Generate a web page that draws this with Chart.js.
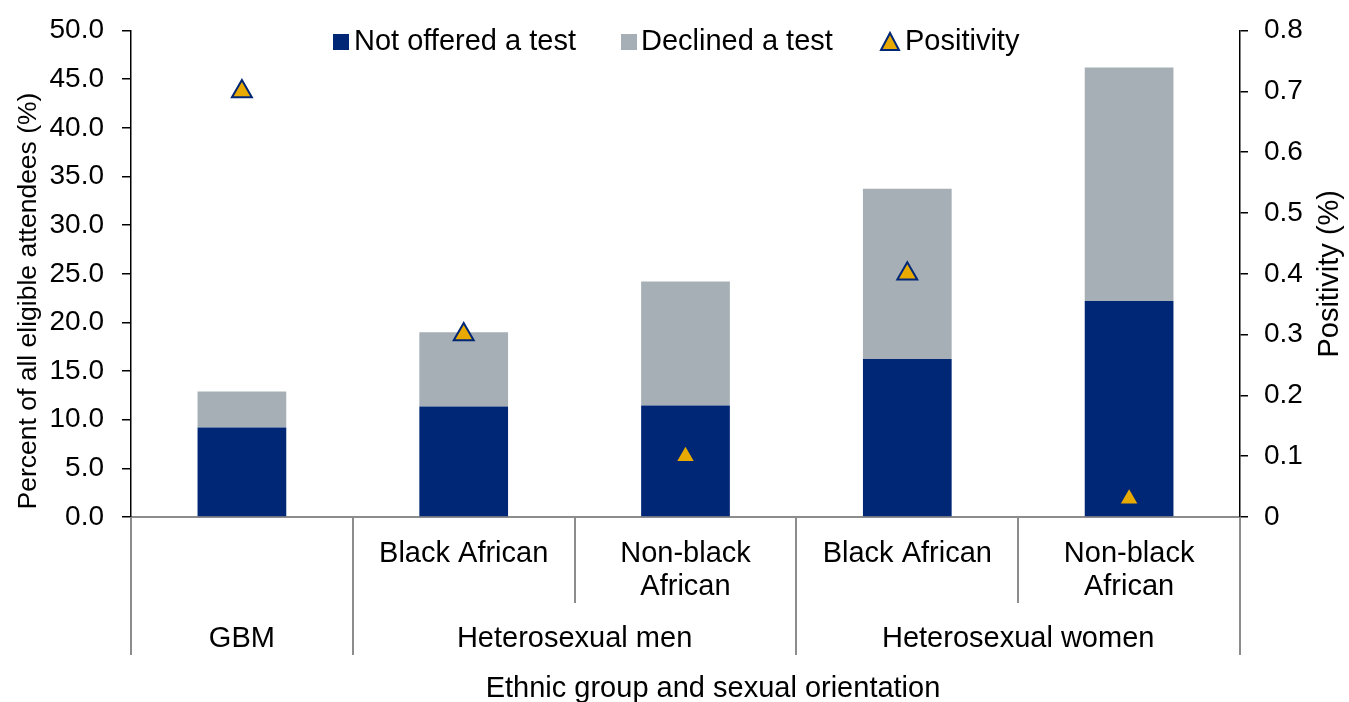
<!DOCTYPE html>
<html>
<head>
<meta charset="utf-8">
<script src="https://cdn.jsdelivr.net/npm/chart.js@4"></script>
<style>
  body { margin: 0; background: #fff; }
  #wrap { width: 1349px; height: 702px; position: relative; }
</style>
</head>
<body>
<div id="wrap"><canvas id="testChart"></canvas></div>
<script>
// data
const subLabels = ['', 'Black African', ['Non-black', 'African'], 'Black African', ['Non-black', 'African']];
const groupLabels = ['GBM', 'Heterosexual men', 'Heterosexual women'];
const groupOf = [0, 1, 1, 2, 2];
const notOffered = [9.2, 11.35, 11.45, 16.25, 22.2];
const declined = [3.7, 7.65, 12.75, 17.5, 24.0];
const positivity = [0.7, 0.3, 0.1, 0.4, 0.03];

const FONT = '"Liberation Sans", Arial, sans-serif';
const NAVY = '#002776';
const GREY = '#a5afb5';
const GOLD = '#e8a900';
const LINE = '#8c8c8c';

Chart.defaults.font.family = FONT;
Chart.defaults.font.size = 28;
Chart.defaults.color = '#000';

// two-row category axis, axis titles and legend laid over the plot
const extras = {
  id: 'extras',
  afterDraw(chart) {
    const { ctx, chartArea, scales } = chart;
    const x = scales.x;
    const n = chart.data.labels.length;
    const edge = i => {
      if (i <= 0) return chartArea.left;
      if (i >= n) return chartArea.right;
      return (x.getPixelForValue(i - 1) + x.getPixelForValue(i)) / 2;
    };
    const base = chartArea.bottom;

    ctx.save();
    ctx.strokeStyle = LINE;
    ctx.lineWidth = 2;
    for (let i = 0; i <= n; i++) {
      const newGroup = i === 0 || i === n || groupOf[i] !== groupOf[i - 1];
      const px = Math.round(edge(i));
      ctx.beginPath();
      ctx.moveTo(px, base);
      ctx.lineTo(px, base + (newGroup ? 138 : 86));
      ctx.stroke();
    }

    ctx.fillStyle = '#000';
    ctx.font = '29px ' + FONT;
    ctx.textAlign = 'center';
    ctx.textBaseline = 'middle';
    subLabels.forEach((lab, i) => {
      const lines = Array.isArray(lab) ? lab : [lab];
      lines.forEach((t, j) => ctx.fillText(t, x.getPixelForValue(i), base + 37 + j * 33));
    });
    groupLabels.forEach((g, gi) => {
      const idx = groupOf.map((v, i) => v === gi ? i : -1).filter(i => i >= 0);
      const cx = (edge(idx[0]) + edge(idx[idx.length - 1] + 1)) / 2;
      ctx.fillText(g, cx, base + 122);
    });
    ctx.fillText('Ethnic group and sexual orientation', 713, 689);

    ctx.save();
    ctx.translate(1330, (chartArea.top + chartArea.bottom) / 2);
    ctx.rotate(-Math.PI / 2);
    ctx.fillText('Positivity (%)', 0, 0);
    ctx.restore();
    ctx.save();
    ctx.font = '26.5px ' + FONT;
    ctx.translate(29, 301);
    ctx.rotate(-Math.PI / 2);
    ctx.fillText('Percent of all eligible attendees (%)', 0, 0);
    ctx.restore();

    // legend
    const ly = 42;
    const ds = chart.data.datasets;
    ctx.textAlign = 'left';
    ctx.fillStyle = ds[0].backgroundColor;
    ctx.fillRect(333, ly - 8, 16, 16);
    ctx.fillStyle = ds[1].backgroundColor;
    ctx.fillRect(621, ly - 8, 16, 16);
    ctx.beginPath();
    ctx.moveTo(890, ly - 9);
    ctx.lineTo(899, ly + 8);
    ctx.lineTo(881, ly + 8);
    ctx.closePath();
    ctx.fillStyle = ds[2].backgroundColor;
    ctx.fill();
    ctx.strokeStyle = ds[2].borderColor;
    ctx.lineWidth = 2;
    ctx.stroke();
    ctx.fillStyle = '#000';
    ctx.fillText(ds[0].label, 354, ly);
    ctx.fillText(ds[1].label, 641, ly);
    ctx.fillText(ds[2].label, 905, ly);
    ctx.restore();
  }
};

const tickFont = { size: 28, lineHeight: 0.9 };

new Chart(document.getElementById('testChart').getContext('2d'), {
  type: 'bar',
  data: {
    labels: subLabels.map((l, i) => groupLabels[groupOf[i]] + ' ' + [].concat(l).join(' ')),
    datasets: [
      {
        label: 'Not offered a test',
        data: notOffered,
        backgroundColor: NAVY,
        stack: 's',
        order: 2,
        categoryPercentage: 1,
        barPercentage: 0.4
      },
      {
        label: 'Declined a test',
        data: declined,
        backgroundColor: GREY,
        stack: 's',
        order: 2,
        categoryPercentage: 1,
        barPercentage: 0.4
      },
      {
        type: 'line',
        label: 'Positivity',
        data: positivity,
        yAxisID: 'y1',
        showLine: false,
        pointStyle: 'triangle',
        pointRadius: 11.5,
        pointBorderWidth: 2,
        backgroundColor: GOLD,
        borderColor: NAVY,
        order: 1
      }
    ]
  },
  options: {
    responsive: true,
    maintainAspectRatio: false,
    animation: false,
    layout: { padding: { top: 0, left: 0, right: 0, bottom: 0 } },
    plugins: {
      legend: { display: false },
      tooltip: { enabled: false }
    },
    scales: {
      x: {
        stacked: true,
        ticks: { display: false },
        grid: { display: false },
        border: { color: LINE, width: 2 },
        afterFit: s => { s.height = 185; }
      },
      y: {
        stacked: true,
        min: 0,
        max: 50,
        ticks: { stepSize: 5, padding: 18, font: tickFont, callback: v => v.toFixed(1) },
        grid: { drawOnChartArea: false, tickLength: 9, color: '#000', lineWidth: 1.5 },
        border: { color: '#000', width: 1.5 },
        afterFit: s => { s.width = 131; }
      },
      y1: {
        position: 'right',
        min: 0,
        max: 0.8,
        ticks: { stepSize: 0.1, padding: 16, font: tickFont, callback: v => v === 0 ? '0' : v.toFixed(1) },
        grid: { drawOnChartArea: false, tickLength: 8, color: '#000', lineWidth: 1.5 },
        border: { color: '#000', width: 1.5 },
        afterFit: s => { s.width = 109; }
      }
    }
  },
  plugins: [extras]
});
</script>
</body>
</html>
